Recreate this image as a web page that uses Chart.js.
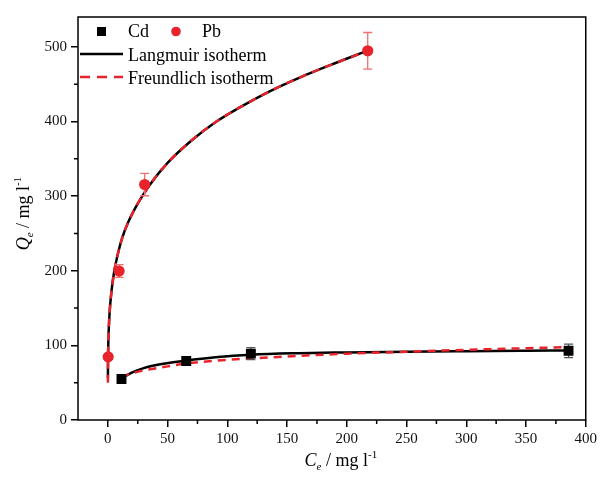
<!DOCTYPE html>
<html>
<head>
<meta charset="utf-8">
<script src="https://cdn.jsdelivr.net/npm/chart.js@4/dist/chart.umd.min.js"></script>
<style>
  html, body { margin: 0; padding: 0; background: #fff; }
  #wrap { width: 600px; height: 477px; }
</style>
</head>
<body>
<div id="wrap"><canvas id="c" width="600" height="477"></canvas></div>
<script>
// Measured adsorption points (Ce in mg/l, Qe in mg/g) with standard deviations
const cdCe  = [11.4, 65.6, 119.7, 385.6];
const cdQe  = [55, 79, 89, 92.7];
const cdErr = [2, 4, 8, 9];

const pbCe  = [0.25, 9.4, 30.8, 217.5];
const pbQe  = [84.6, 199.6, 315.5, 494.7];
const pbErr = [3, 8.5, 15, 24.5];

// Fitted isotherm curves
const cdLangCe = [11.4, 20, 30, 45, 65, 90, 120, 160, 200, 250, 300, 350, 386];
const cdLangQe = [55.5, 63.5, 69.5, 75, 79.5, 84, 87.5, 89.5, 90.5, 91.5, 92.2, 92.8, 93.2];
const cdFreuCe = [11.4, 20, 30, 45, 65, 90, 120, 160, 200, 250, 300, 350, 386];
const cdFreuQe = [57.5, 62.5, 66.5, 70.5, 75.5, 79.5, 82.5, 86, 88.8, 91.5, 94, 96.2, 97.6];

const pbLangCe = [0.03, 0.1, 0.3, 0.7, 1.5, 3, 5, 8, 12, 17, 25, 35, 50, 70, 90, 110, 135, 160, 190, 217];
const pbLangQe = [56, 74, 97, 120, 145, 172, 196, 220, 244, 265, 290, 315, 344.5, 374.5, 399, 418.5, 440, 458.5, 478, 494.5];
const pbFreuCe = [0.02, 0.1, 0.3, 0.7, 1.5, 3, 5, 8, 12, 17, 25, 35, 50, 70, 90, 110, 135, 160, 190, 217];
const pbFreuQe = [50, 73, 97, 120, 145, 172, 196, 220, 244, 265, 290, 315, 344.5, 374.5, 399, 418.5, 440, 458.5, 478, 494.5];

// Axis ticks
const xTicks = [0, 50, 100, 150, 200, 250, 300, 350, 400];
const xMinor = [25, 75, 125, 175, 225, 275, 325, 375];
const yTicks = [0, 100, 200, 300, 400, 500];
const yMinor = [50, 150, 250, 350, 450];

const RED = '#e8232b';
const RED_ERR = '#f07070';
const SERIF = '"Liberation Serif", "Times New Roman", serif';

const pts = (xs, ys) => xs.map((x, i) => ({ x: x, y: ys[i] }));

// Error bars, plot frame, minor ticks, axis titles and legend
const decor = {
  id: 'decor',
  beforeDatasetDraw(chart, args) {
    if (args.index !== 1) return; // draw bars just before the Pb markers (Cd markers follow)
    const { ctx, scales: { x, y } } = chart;
    const bar = (cs, qs, es, color) => {
      ctx.save();
      ctx.strokeStyle = color;
      ctx.lineWidth = 1.3;
      cs.forEach((c, i) => {
        const px = x.getPixelForValue(c);
        const top = y.getPixelForValue(qs[i] + es[i]);
        const bot = y.getPixelForValue(qs[i] - es[i]);
        ctx.beginPath();
        ctx.moveTo(px, top); ctx.lineTo(px, bot);
        ctx.moveTo(px - 4.5, top); ctx.lineTo(px + 4.5, top);
        ctx.moveTo(px - 4.5, bot); ctx.lineTo(px + 4.5, bot);
        ctx.stroke();
      });
      ctx.restore();
    };
    bar(pbCe, pbQe, pbErr, RED_ERR);
    bar(cdCe, cdQe, cdErr, '#555');
  },
  afterDraw(chart) {
    const { ctx, chartArea: a, scales: { x, y } } = chart;
    ctx.save();
    // frame
    ctx.strokeStyle = '#000';
    ctx.lineWidth = 1.5;
    ctx.strokeRect(a.left, a.top, a.right - a.left, a.bottom - a.top);
    // minor ticks
    ctx.beginPath();
    xMinor.forEach(v => {
      const px = x.getPixelForValue(v);
      ctx.moveTo(px, a.bottom); ctx.lineTo(px, a.bottom + 4);
    });
    yMinor.forEach(v => {
      const py = y.getPixelForValue(v);
      ctx.moveTo(a.left, py); ctx.lineTo(a.left - 4, py);
    });
    ctx.stroke();

    // axis title helper: main letter italic + italic subscript + text + superscript
    const title = (cx, cy, letter) => {
      const big = 'italic 18px ' + SERIF, sub = 'italic 11px ' + SERIF;
      const norm = '18px ' + SERIF, sup = '11px ' + SERIF;
      const parts = [
        [letter, big, 0], ['e', sub, 4], [' / mg l', norm, 0], ['-1', sup, -8]
      ];
      let w = 0;
      parts.forEach(p => { ctx.font = p[1]; w += ctx.measureText(p[0]).width; });
      let cx0 = cx - w / 2;
      ctx.fillStyle = '#000';
      ctx.textBaseline = 'alphabetic';
      ctx.textAlign = 'left';
      parts.forEach(p => {
        ctx.font = p[1];
        ctx.fillText(p[0], cx0, cy + p[2]);
        cx0 += ctx.measureText(p[0]).width;
      });
    };
    title((a.left + a.right) / 2 + 9, 466, 'C');
    ctx.save();
    ctx.translate(29, (a.top + a.bottom) / 2 - 5);
    ctx.rotate(-Math.PI / 2);
    title(0, 0, 'Q');
    ctx.restore();

    // legend
    ctx.font = '18px ' + SERIF;
    ctx.fillStyle = '#000';
    ctx.textAlign = 'left';
    ctx.textBaseline = 'alphabetic';
    ctx.fillRect(97, 27, 9, 9);
    ctx.fillText('Cd', 128, 37);
    ctx.fillStyle = RED;
    ctx.beginPath(); ctx.arc(176, 31.5, 4.8, 0, Math.PI * 2); ctx.fill();
    ctx.fillStyle = '#000';
    ctx.fillText('Pb', 202, 37);
    ctx.strokeStyle = '#000';
    ctx.lineWidth = 2.5;
    ctx.beginPath(); ctx.moveTo(80, 54); ctx.lineTo(123, 54); ctx.stroke();
    ctx.fillText('Langmuir isotherm', 128, 61);
    ctx.strokeStyle = RED;
    ctx.setLineDash([10, 7]);
    ctx.beginPath(); ctx.moveTo(80, 77); ctx.lineTo(123, 77); ctx.stroke();
    ctx.setLineDash([]);
    ctx.fillText('Freundlich isotherm', 128, 84);
    ctx.restore();
  }
};

const curve = (data, color, dash, order) => ({
  type: 'line',
  data: data,
  borderColor: color,
  borderWidth: 2.5,
  borderDash: dash,
  pointRadius: 0,
  fill: false,
  cubicInterpolationMode: 'monotone',
  order: order
});

new Chart(document.getElementById('c'), {
  type: 'scatter',
  data: {
    datasets: [
      { label: 'Cd', data: pts(cdCe, cdQe), pointStyle: 'rect', pointRadius: 7,
        backgroundColor: '#000', borderColor: '#000', borderWidth: 0, order: 0 },
      { label: 'Pb', data: pts(pbCe, pbQe), pointStyle: 'circle', pointRadius: 5.6,
        backgroundColor: RED, borderColor: RED, borderWidth: 0, order: 1 },
      curve(pts(cdFreuCe, cdFreuQe), RED, [8, 6], 2),
      curve(pts(pbFreuCe, pbFreuQe), RED, [8, 6], 2),
      curve(pts(cdLangCe, cdLangQe), '#000', [], 3),
      curve(pts(pbLangCe, pbLangQe), '#000', [], 3)
    ]
  },
  options: {
    responsive: false,
    animation: false,
    layout: { padding: { top: 17, right: 12, left: 0, bottom: 0 } },
    plugins: { legend: { display: false }, tooltip: { enabled: false } },
    scales: {
      x: {
        type: 'linear', min: -25, max: 400,
        afterBuildTicks: s => { s.ticks = xTicks.map(v => ({ value: v })); },
        afterFit: s => { s.height = 57; },
        grid: { drawOnChartArea: false, drawTicks: true, tickLength: 7, color: '#000', lineWidth: 1.5 },
        border: { display: false },
        ticks: { color: '#111', font: { family: SERIF, size: 15 }, padding: 3, maxRotation: 0 }
      },
      y: {
        type: 'linear', min: 0, max: 540,
        afterBuildTicks: s => { s.ticks = yTicks.map(v => ({ value: v })); },
        afterFit: s => { s.width = 78; },
        grid: { drawOnChartArea: false, drawTicks: true, tickLength: 7, color: '#000', lineWidth: 1.5 },
        border: { display: false },
        ticks: { color: '#111', font: { family: SERIF, size: 15 }, padding: 4 }
      }
    }
  },
  plugins: [decor]
});
</script>
</body>
</html>
